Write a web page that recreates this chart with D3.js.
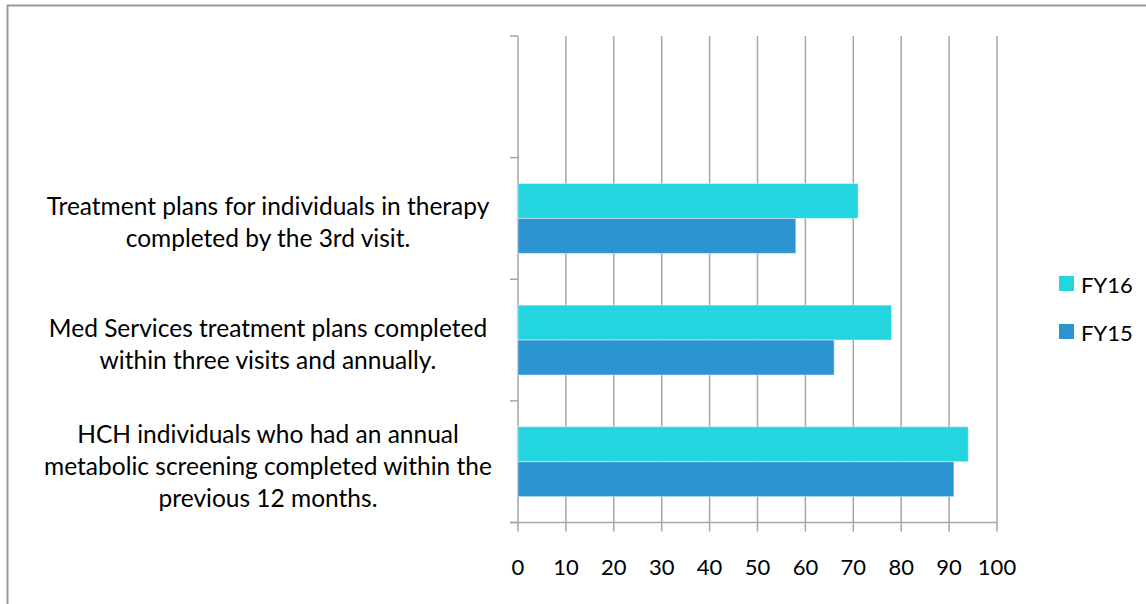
<!DOCTYPE html>
<html><head><meta charset="utf-8">
<script src="https://cdn.jsdelivr.net/npm/d3@7"></script>
<style>html,body{margin:0;padding:0;background:#fff;}svg{display:block;}</style>
</head><body>
<script>
const categories = [
  ["HCH individuals who had an annual", "metabolic screening completed within the", "previous 12 months."],
  ["Med Services treatment plans completed", "within three visits and annually."],
  ["Treatment plans for individuals in therapy", "completed by the 3rd visit."],
  [""]
];
const seriesNames = ["FY16", "FY15"];
const fy16 = [94, 78, 71, null];
const fy15 = [91, 66, 58, null];
const xTicks = [0, 10, 20, 30, 40, 50, 60, 70, 80, 90, 100];
const colors = ["#24D5DF", "#2C94D0"];

(function () {
const W = 1146, H = 604;
const FONT = "Lato, 'Open Sans', sans-serif";
const FS = 22, FSC = 24.5;
const svg = d3.select("body").append("svg").attr("width", W).attr("height", H);

svg.append("rect").attr("x", 7.5).attr("y", 5.5).attr("width", W + 10).attr("height", H + 10)
  .attr("fill", "none").attr("stroke", "#9a9a9a").attr("stroke-width", 2);

const pL = 518, pR = 997, pT = 36, pB = 522.5;
const x = d3.scaleLinear().domain([0, 100]).range([pL, pR]);
const ids = categories.map((c, i) => i);
const y = d3.scaleBand().domain(ids.slice().reverse()).range([pT, pB])
  .paddingInner(0.425).paddingOuter(0.2125);
const step = y.step();
const inner = d3.scaleBand().domain(seriesNames).range([0, y.bandwidth()]);

const grid = svg.append("g");
grid.selectAll("line.v").data(xTicks).join("line")
  .attr("x1", d => x(d)).attr("x2", d => x(d))
  .attr("y1", pT).attr("y2", pB + 9)
  .attr("stroke", "#a6a6a6").attr("stroke-width", 1.5);
grid.append("line").attr("x1", pL - 8).attr("x2", pR).attr("y1", pB).attr("y2", pB)
  .attr("stroke", "#a6a6a6").attr("stroke-width", 1.5);
const bounds = d3.range(categories.length + 1).map(i => pT + i * step);
grid.selectAll("line.t").data(bounds).join("line")
  .attr("x1", pL - 8).attr("x2", pL)
  .attr("y1", d => d).attr("y2", d => d)
  .attr("stroke", "#a6a6a6").attr("stroke-width", 1.5);

const data = [];
ids.forEach(i => {
  if (fy16[i] != null) data.push({i, s: "FY16", v: fy16[i], c: colors[0]});
  if (fy15[i] != null) data.push({i, s: "FY15", v: fy15[i], c: colors[1]});
});
svg.append("g").selectAll("rect").data(data).join("rect")
  .attr("x", x(0)).attr("y", d => y(d.i) + inner(d.s))
  .attr("width", d => x(d.v) - x(0)).attr("height", inner.bandwidth())
  .attr("fill", d => d.c).attr("stroke", "rgba(255,255,255,0.45)").attr("stroke-width", 1);

svg.append("g").selectAll("text").data(xTicks).join("text")
  .attr("x", d => x(d)).attr("y", 575).attr("text-anchor", "middle")
  .attr("font-family", FONT).attr("font-size", FS).attr("fill", "#000")
  .text(d => d);

const lab = svg.append("g");
ids.forEach(i => {
  const lines = categories[i];
  const cy = y(i) + y.bandwidth() / 2;
  const lh = 32;
  lines.forEach((t, k) => {
    lab.append("text").attr("x", 268).attr("y", cy - (lines.length - 1) * lh / 2 + k * lh + 13)
      .attr("text-anchor", "middle").attr("font-family", FONT).attr("font-size", FSC).attr("fill", "#000")
      .text(t);
  });
});

const lg = svg.append("g");
seriesNames.forEach((s, k) => {
  lg.append("rect").attr("x", 1059).attr("y", 276 + k * 48).attr("width", 15).attr("height", 15)
    .attr("fill", colors[k]);
  lg.append("text").attr("x", 1081).attr("y", 293 + k * 48)
    .attr("font-family", FONT).attr("font-size", FS).attr("fill", "#000").text(s);
});
})();
</script>
</body></html>
